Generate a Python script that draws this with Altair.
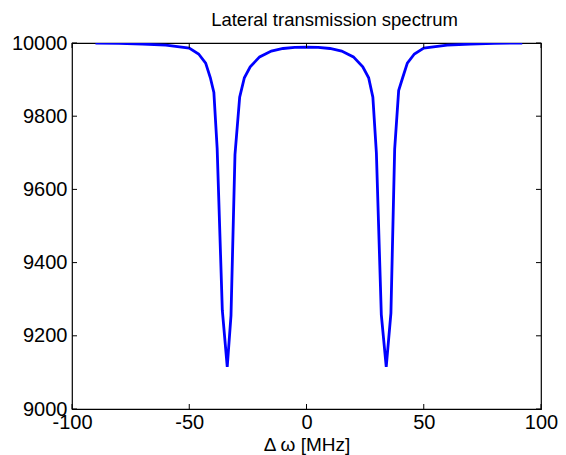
import altair as alt
import pandas as pd

# Detuning (MHz) and transmitted intensity
detuning = [-90, -80, -70, -60, -50, -46, -43, -41, -39.5, -38.1, -35.9, -33.8,
            -32.2, -30.5, -28.5, -26.5, -24, -20, -15, -10, -5, 0,
            5, 10, 15, 20, 24, 26.5, 28.3, 29.8, 31.9, 34.0, 36.0, 37.6,
            39.3, 41, 43, 46, 50, 60, 70, 80, 92]
transmission = [10000, 9999, 9997, 9994, 9986, 9970, 9945, 9905, 9865, 9712, 9270, 9115,
                9255, 9695, 9852, 9905, 9935, 9962, 9978, 9985, 9988, 9989,
                9988, 9985, 9978, 9962, 9935, 9905, 9852, 9700, 9258, 9115, 9262, 9710,
                9870, 9905, 9945, 9970, 9986, 9994, 9997, 9999, 10000]

x_ticks = [-100, -50, 0, 50, 100]
y_ticks = [9000, 9200, 9400, 9600, 9800, 10000]

W, H = 469, 366
TL = 5

df = pd.DataFrame({"x": detuning, "y": transmission})
xt = pd.DataFrame({"x": x_ticks})
yt = pd.DataFrame({"y": y_ticks})

xs = alt.Scale(domain=[-100, 100], nice=False, zero=False)
ys = alt.Scale(domain=[9000, 10000], nice=False, zero=False)

xax = alt.Axis(values=x_ticks, title="Δ ω [MHz]", labelPadding=3,
               titlePadding=3, labelFlush=False, labelExpr="'' + datum.value")
yax = alt.Axis(values=y_ticks, title=None, labelPadding=5,
               labelExpr="'' + datum.value")

line = alt.Chart(df).mark_line(color="#0000ff", strokeWidth=2.8, clip=True).encode(
    x=alt.X("x:Q", scale=xs, axis=xax),
    y=alt.Y("y:Q", scale=ys, axis=yax),
)

xb = alt.Chart(xt).mark_rule(color="black", strokeWidth=1).encode(
    x=alt.X("x:Q", scale=xs, axis=xax), y=alt.value(H), y2=alt.value(H - TL))
xtp = alt.Chart(xt).mark_rule(color="black", strokeWidth=1).encode(
    x=alt.X("x:Q", scale=xs, axis=xax), y=alt.value(0), y2=alt.value(TL))
yl = alt.Chart(yt).mark_rule(color="black", strokeWidth=1).encode(
    y=alt.Y("y:Q", scale=ys, axis=yax), x=alt.value(0), x2=alt.value(TL))
yr = alt.Chart(yt).mark_rule(color="black", strokeWidth=1).encode(
    y=alt.Y("y:Q", scale=ys, axis=yax), x=alt.value(W), x2=alt.value(W - TL))

chart = alt.layer(line, xb, xtp, yl, yr).properties(
    width=W, height=H,
    title=alt.TitleParams("Lateral transmission spectrum", fontSize=18.5,
                          font="Liberation Sans", fontWeight="normal",
                          color="black", offset=4, dx=28),
    padding={"left": 64, "top": 35, "right": 17, "bottom": 46},
    autosize="none",
).configure_view(stroke="black", strokeWidth=1.2).configure_axis(
    labelFont="Liberation Sans", labelFontSize=20, labelColor="black",
    titleFont="Liberation Sans", titleFontSize=19, titleFontWeight="normal",
    titleColor="black", ticks=False, domain=False, grid=False,
)

chart.save("out.html", embed_options={"renderer": "svg", "actions": False})
